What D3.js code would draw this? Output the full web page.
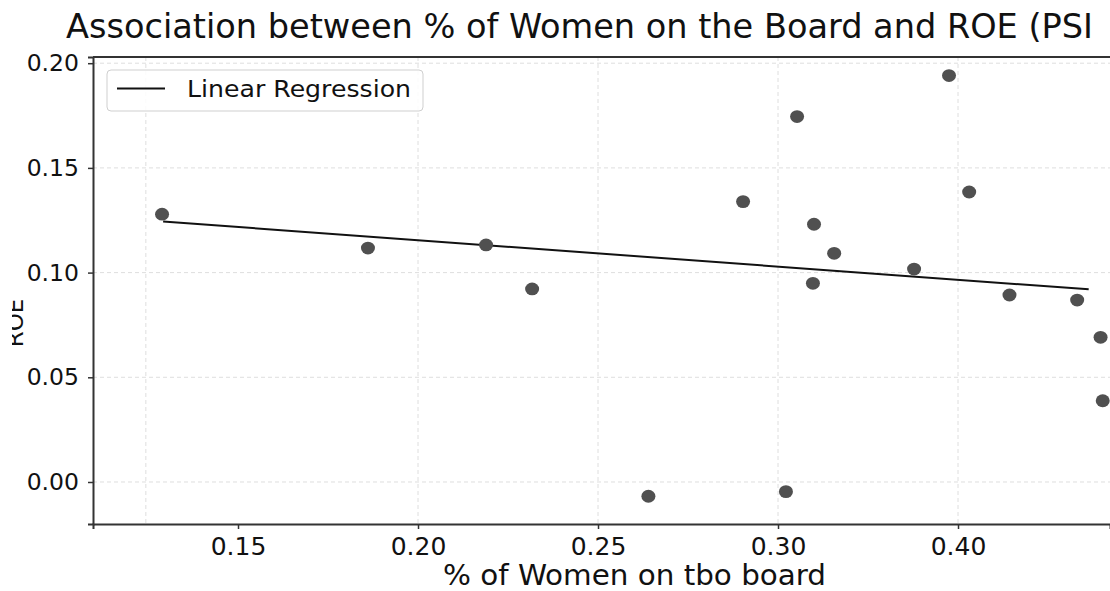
<!DOCTYPE html>
<html>
<head>
<meta charset="utf-8">
<script src="https://cdn.jsdelivr.net/npm/d3@7"></script>
<style>
  html, body { margin: 0; padding: 0; background: #fff; }
  svg { display: block; }
</style>
</head>
<body>
<svg id="chart" width="1110" height="591"></svg>
<script>
// Share of women on the board vs. return on equity, one point per company
const womenShare = [0.1289, 0.1861, 0.2189, 0.2317, 0.2640, 0.2903, 0.3053, 0.3022, 0.3100,
                    0.3097, 0.3156, 0.3378, 0.3475, 0.3531, 0.3643, 0.3831, 0.3896, 0.3902];
const roe        = [0.1279, 0.1117, 0.1132, 0.0922, -0.0068, 0.1339, 0.1745, -0.0046, 0.1231,
                    0.0949, 0.1092, 0.1017, 0.1941, 0.1385, 0.0893, 0.0869, 0.0691, 0.0388];

// Fitted regression line, end points
const regX = [0.1292, 0.3863];
const regY = [0.1244, 0.0920];

// Axis ticks and labels
const xTickValues = [0.15, 0.20, 0.25, 0.30, 0.35];
const xTickLabels = ["0.15", "0.20", "0.25", "0.30", "0.40"];
const yTickValues = [0.00, 0.05, 0.10, 0.15, 0.20];
const yTickLabels = ["0.00", "0.05", "0.10", "0.15", "0.20"];

// Grid line positions
const xGridValues = [0.1244, 0.20, 0.25, 0.30, 0.35];
const yGridValues = [0.00, 0.05, 0.10, 0.15, 0.20];

const titleText = "Association between % of Women on the Board and ROE (PSI";
const xLabelText = "% of Women on tbo board";
const yLabelText = "ROE";
const legendText = "Linear Regression";

const W = 1110, H = 591;
const plot = { left: 93, top: 57, right: 1110, bottom: 524 };

const svg = d3.select("#chart");

const x = d3.scaleLinear().domain([0.10972, 0.39222]).range([plot.left, plot.right]);
const y = d3.scaleLinear().domain([-0.02006, 0.20296]).range([plot.bottom, plot.top]);

// grid
const grid = svg.append("g").attr("class", "grid")
  .attr("stroke", "#dedede").attr("stroke-width", 1).attr("stroke-dasharray", "4,3");
grid.selectAll("line.v").data(xGridValues).join("line").attr("class", "v")
  .attr("x1", d => x(d)).attr("x2", d => x(d))
  .attr("y1", plot.top).attr("y2", plot.bottom);
grid.selectAll("line.h").data(yGridValues).join("line").attr("class", "h")
  .attr("x1", plot.left).attr("x2", plot.right)
  .attr("y1", d => y(d)).attr("y2", d => y(d));

// regression line
const line = d3.line().x(d => x(d[0])).y(d => y(d[1]));
svg.append("path")
  .datum(regX.map((v, i) => [v, regY[i]]))
  .attr("d", line)
  .attr("fill", "none")
  .attr("stroke", "#111")
  .attr("stroke-width", 2);

// points
svg.append("g").selectAll("ellipse")
  .data(womenShare.map((v, i) => [v, roe[i]]))
  .join("ellipse")
  .attr("cx", d => x(d[0]))
  .attr("cy", d => y(d[1]))
  .attr("rx", 7)
  .attr("ry", 6.4)
  .attr("fill", "#505050");

// axes
const xAxis = d3.axisBottom(x).tickValues(xTickValues)
  .tickFormat((d, i) => xTickLabels[i]).tickSizeOuter(0).tickSize(5).tickPadding(8);
const gx = svg.append("g").attr("transform", `translate(0,${plot.bottom})`).call(xAxis);
gx.select(".domain").attr("stroke", "#333").attr("stroke-width", 2);
gx.selectAll(".tick line").attr("stroke", "#333").attr("stroke-width", 1.5);
gx.selectAll(".tick text")
  .attr("font-family", "'DejaVu Sans', sans-serif")
  .attr("font-size", 25).attr("fill", "#111");

const yAxis = d3.axisLeft(y).tickValues(yTickValues)
  .tickFormat((d, i) => yTickLabels[i]).tickSizeOuter(0).tickSize(5).tickPadding(9);
const gy = svg.append("g").attr("transform", `translate(${plot.left},0)`).call(yAxis);
gy.select(".domain").attr("stroke", "#333").attr("stroke-width", 2);
gy.selectAll(".tick line").attr("stroke", "#333").attr("stroke-width", 1.5);
gy.selectAll(".tick text")
  .attr("font-family", "'DejaVu Sans', sans-serif")
  .attr("font-size", 23.5).attr("fill", "#111");

// top spine
svg.append("line")
  .attr("x1", plot.left).attr("x2", plot.right)
  .attr("y1", plot.top).attr("y2", plot.top)
  .attr("stroke", "#333").attr("stroke-width", 2);

// title
svg.append("text")
  .attr("x", 66).attr("y", 38)
  .attr("font-family", "'DejaVu Sans Condensed', 'DejaVu Sans', sans-serif")
  .attr("font-size", 34)
  .attr("fill", "#111")
  .attr("textLength", 1027).attr("lengthAdjust", "spacingAndGlyphs")
  .text(titleText);

// x label
svg.append("text")
  .attr("x", 443).attr("y", 585)
  .attr("font-family", "'DejaVu Sans Condensed', 'DejaVu Sans', sans-serif")
  .attr("font-size", 28)
  .attr("fill", "#111")
  .attr("textLength", 383).attr("lengthAdjust", "spacingAndGlyphs")
  .text(xLabelText);

// y label, partly outside the left edge
svg.append("defs").append("clipPath").attr("id", "ylabClip")
  .append("rect").attr("x", 12).attr("y", 0).attr("width", 40).attr("height", H);
svg.append("g")
  .attr("clip-path", "url(#ylabClip)")
  .append("text")
  .attr("transform", "translate(23,323) rotate(-90)")
  .attr("text-anchor", "middle")
  .attr("font-family", "'DejaVu Sans', sans-serif")
  .attr("font-size", 23)
  .attr("fill", "#111")
  .text(yLabelText);

// legend
const lg = svg.append("g");
lg.append("rect")
  .attr("x", 107).attr("y", 70).attr("width", 316).attr("height", 41)
  .attr("rx", 4).attr("fill", "#fff").attr("fill-opacity", 0.85)
  .attr("stroke", "#cfcfcf").attr("stroke-width", 1);
lg.append("line")
  .attr("x1", 117).attr("x2", 165).attr("y1", 88.5).attr("y2", 88.5)
  .attr("stroke", "#111").attr("stroke-width", 2);
lg.append("text")
  .attr("x", 187).attr("y", 97)
  .attr("font-family", "'DejaVu Sans', sans-serif")
  .attr("font-size", 22.5)
  .attr("fill", "#111")
  .attr("textLength", 224).attr("lengthAdjust", "spacingAndGlyphs")
  .text(legendText);
</script>
</body>
</html>
